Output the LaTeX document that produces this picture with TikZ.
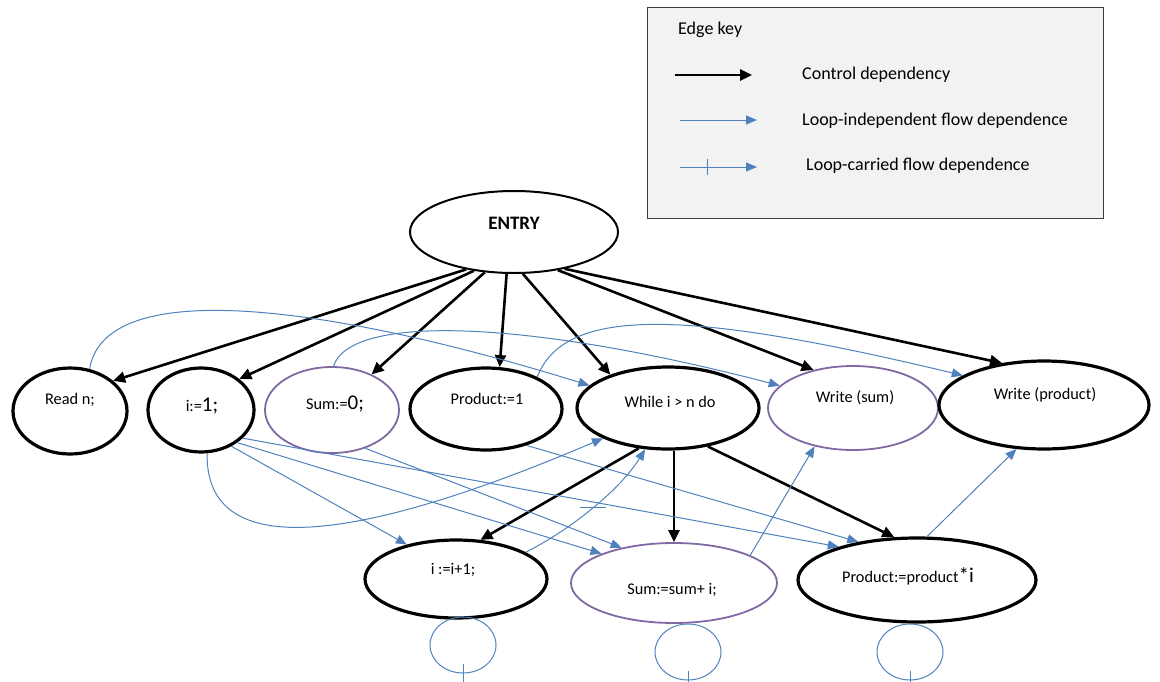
\documentclass[tikz,border=0pt]{standalone}
\usepackage{fontspec}
\setmainfont{Carlito}
\usetikzlibrary{arrows.meta,shapes.geometric}
\definecolor{flowblue}{RGB}{79,129,189}
\definecolor{sumpurple}{RGB}{128,104,162}
\definecolor{keyfill}{RGB}{242,242,242}
\definecolor{keyedge}{RGB}{60,60,60}
\newcommand{\bigpart}[1]{{\fontsize{21}{24}\selectfont #1}}
\begin{document}
\begin{tikzpicture}[x=1pt,y=-1pt,
  stmt/.style={ellipse, draw=black, line width=3.2pt, inner sep=0pt},
  accum/.style={ellipse, draw=sumpurple, line width=1.8pt, inner sep=0pt},
  lbl/.style={inner sep=0pt, font=\fontsize{16.3}{19}\selectfont},
  keytxt/.style={inner sep=0pt, anchor=west, font=\fontsize{18}{21}\selectfont},
  ctrl/.style={draw=black, line width=2.6pt, -{Triangle[length=12pt,width=11pt]}},
  flow/.style={draw=flowblue, line width=1pt, -{Triangle[length=11pt,width=9pt]}},
  loopring/.style={ellipse, draw=flowblue, line width=1pt, minimum width=66pt, minimum height=56pt, inner sep=0pt},
  tick/.style={draw=flowblue, line width=1pt},
]
\useasboundingbox (0,0) rectangle (1160,681);

% ---------- edge key ----------
\node[draw=keyedge, fill=keyfill, line width=1.2pt, minimum width=456pt, minimum height=211pt,
      inner sep=0pt, anchor=north west] (key) at (647,7) {};
\node[keytxt] (keytitle) at (678,30) {Edge key};
\coordinate (k1a) at (675,75);  \coordinate (k1b) at (752,75);
\coordinate (k2a) at (680,120); \coordinate (k2b) at (757,120);
\coordinate (k3a) at (680,167); \coordinate (k3b) at (757,167);
\coordinate (k3t) at (707,167);
\draw[ctrl] (k1a) -- (k1b);
\draw[flow] (k2a) -- (k2b);
\draw[flow] (k3a) -- (k3b);
\draw[tick] ([yshift=8pt]k3t) -- ([yshift=-8pt]k3t);
\node[keytxt] (k1t) at (802,75)  {Control dependency};
\node[keytxt] (k2t) at (802,121) {Loop-independent flow dependence};
\node[keytxt] (k3t-l) at (806,166) {Loop-carried flow dependence};

% ---------- statements ----------
\node[ellipse, draw=black, line width=2pt, inner sep=0pt, minimum width=208pt, minimum height=82pt] (entry) at (514,232) {};
\node[lbl, font=\bfseries\fontsize{19}{22}\selectfont] (entry-t) at (514,223) {ENTRY};

\node[stmt, minimum width=114pt, minimum height=86pt] (readn) at (70,411) {};
\node[lbl] (readn-t) at (70,400) {Read n;};

\node[stmt, minimum width=106pt, minimum height=84pt] (i1) at (201,410) {};
\node[lbl] (i1-t) at (202,406) {i:=\bigpart{1;}};

\node[accum, minimum width=134pt, minimum height=86pt] (sum0) at (332,410) {};
\node[lbl] (sum0-t) at (335,404) {Sum:=\bigpart{0;}};

\node[stmt, minimum width=152pt, minimum height=82pt] (prod1) at (486,409) {};
\node[lbl] (prod1-t) at (487,399) {Product:=1};

\node[stmt, minimum width=182pt, minimum height=82pt] (while) at (668,408) {};
\node[lbl] (while-t) at (670,402) {While i > n do};

\node[accum, minimum width=170pt, minimum height=84pt] (wsum) at (853,408) {};
\node[lbl] (wsum-t) at (855,398) {Write (sum)};

\node[stmt, minimum width=210pt, minimum height=88pt] (wprod) at (1044,405) {};
\node[lbl] (wprod-t) at (1045,395) {Write (product)};

\node[stmt, minimum width=182pt, minimum height=78pt] (ip1) at (456,579) {};
\node[lbl] (ip1-t) at (453,570) {i :=i+1;};

\node[accum, minimum width=206pt, minimum height=80pt] (sumi) at (674,583) {};
\node[lbl] (sumi-t) at (672,590) {Sum:=sum+ i;};

\node[stmt, minimum width=238pt, minimum height=84pt] (prodi) at (917,580) {};
\node[lbl] (prodi-t) at (908,576) {Product:=product\bigpart{*i}};

% ---------- control dependences ----------
\draw[ctrl] (entry.218)   -- (readn.35);
\draw[ctrl] (entry.224)   -- (i1.39);
\draw[ctrl] (entry.234)   -- (sum0.42);
\draw[ctrl] (entry.260)   -- (prod1.72);
\draw[ctrl] (entry.282)   -- (while.150);
\draw[ctrl] (entry.319)   -- (wsum.136);
\draw[ctrl] (entry.324)   -- (wprod.135);
\draw[ctrl] (while.234)   -- (ip1.58);
\draw[ctrl] (while.south -| sumi.north) -- (sumi.north);
\draw[ctrl] (while.316)   -- (prodi.118);

% ---------- loop-independent flow dependences ----------
\draw[flow] (readn.65) .. controls (105,275) and (330,305) .. (while.164);
\draw[flow] (sum0.88)  .. controls (350,315) and (520,318) .. (wsum.163);
\draw[flow] (prod1.32) .. controls (565,305) and (690,310) .. (wprod.160);
\draw[flow] (i1.278)   .. controls (205,578) and (400,525) .. (while.205);
\draw[flow] (i1.310)   -- (ip1.145);
\draw[flow] (i1.318)   -- (sumi.158);
\draw[flow] (i1.326)   -- (prodi.157);
\draw[flow] (prod1.318) -- (prodi.147);
\draw[flow] (sum0.311) -- (sumi.146);
\draw[flow] (sumi.20)  -- (wsum.225);
\draw[flow] (prodi.77) -- (wprod.238);

% ---------- loop-carried flow dependences ----------
\draw[flow] (ip1.21) .. controls (570,530) and (620,490) .. coordinate[pos=0.5] (ipt) (while.241);
\draw[tick] ([xshift=-13pt]ipt) -- ([xshift=13pt]ipt);

\node[loopring] (ip1loop)  at (463,645) {};
\node[loopring] (sumiloop) at (688,652) {};
\node[loopring] (prodiloop) at (910,652) {};
\draw[tick] ([yshift=10pt]ip1loop.south)   -- ([yshift=-8pt]ip1loop.south);
\draw[tick] ([yshift=10pt]sumiloop.south)  -- ([yshift=-8pt]sumiloop.south);
\draw[tick] ([yshift=10pt]prodiloop.south) -- ([yshift=-8pt]prodiloop.south);
\end{tikzpicture}
\end{document}
